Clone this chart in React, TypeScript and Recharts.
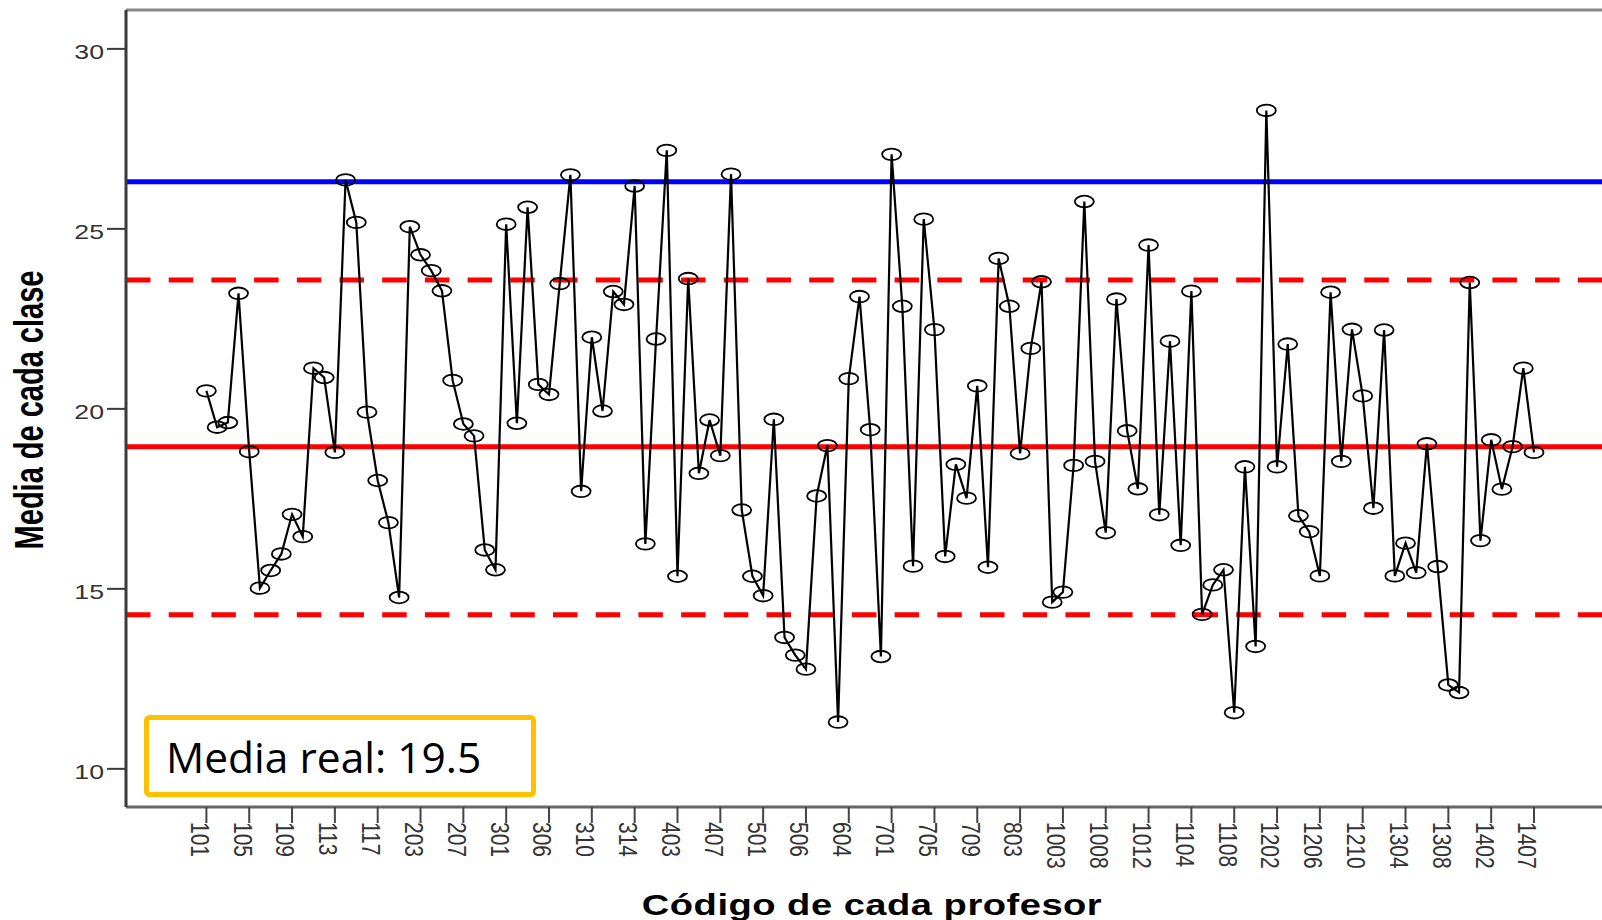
import { LineChart, Line, XAxis, YAxis, ReferenceLine } from 'recharts';

// teacher codes, one per class (every 4th is labelled on the axis)
const codes = [
  '101', '102', '103', '104', '105', '106', '107', '108', '109', '110',
  '111', '112', '113', '114', '115', '116', '117', '118', '201', '202',
  '203', '204', '205', '206', '207', '208', '209', '210', '301', '302',
  '303', '304', '306', '307', '308', '309', '310', '311', '312', '313',
  '314', '315', '401', '402', '403', '404', '405', '406', '407', '408',
  '409', '410', '501', '502', '503', '504', '506', '507', '602', '603',
  '604', '605', '606', '607', '701', '702', '703', '704', '705', '706',
  '707', '708', '709', '710', '801', '802', '803', '804', '1001', '1002',
  '1003', '1004', '1005', '1006', '1008', '1009', '1010', '1011', '1012', '1101',
  '1102', '1103', '1104', '1105', '1106', '1107', '1108', '1109', '1110', '1201',
  '1202', '1203', '1204', '1205', '1206', '1207', '1208', '1209', '1210', '1301',
  '1302', '1303', '1304', '1305', '1306', '1307', '1308', '1309', '1310', '1401',
  '1402', '1403', '1404', '1405', '1407',
];

const classMeans = [
  20.5, 19.49, 19.62, 23.21, 18.81, 15.02, 15.51, 15.97, 17.07, 16.45,
  21.13, 20.87, 18.79, 26.36, 25.18, 19.91, 18.01, 16.84, 14.76, 25.06,
  24.28, 23.84, 23.28, 20.79, 19.58, 19.25, 16.08, 15.53, 25.13, 19.6,
  25.6, 20.68, 20.4, 23.48, 26.5, 17.71, 21.99, 19.94, 23.26, 22.9,
  26.19, 16.25, 21.94, 27.18, 15.35, 23.62, 18.21, 19.69, 18.7, 26.52,
  17.19, 15.35, 14.81, 19.71, 13.65, 13.16, 12.77, 17.58, 18.98, 11.3,
  20.84, 23.12, 19.42, 13.12, 27.07, 22.85, 15.63, 25.27, 22.2, 15.9,
  18.46, 17.52, 20.64, 15.6, 24.18, 22.85, 18.76, 21.68, 23.53, 14.63,
  14.91, 18.43, 25.76, 18.54, 16.56, 23.05, 19.39, 17.78, 24.55, 17.06,
  21.88, 16.21, 23.27, 14.29, 15.11, 15.53, 11.56, 18.39, 13.4, 28.29,
  18.39, 21.8, 17.03, 16.59, 15.36, 23.24, 18.54, 22.21, 20.36, 17.24,
  22.19, 15.36, 16.27, 15.45, 19.03, 15.62, 12.33, 12.12, 23.51, 16.34,
  19.14, 17.77, 18.95, 21.13, 18.79,
];

const yTicks = [10, 15, 20, 25, 30];
const yDomain: [number, number] = [8.94, 31.08];

// control lines
const grandMean = 18.95;
const upperLimit = 23.58;
const lowerLimit = 14.28;
const topLimit = 26.31;

const data = codes.map((code, i) => ({ code, value: classMeans[i] }));

// the source image was stretched sideways, text follows that
const STRETCH = 1.27;
const FONT = "'Liberation Sans', Arial, sans-serif";

const YTick = ({ x, y, payload }: any) => (
  <text
    transform={`translate(${x - 1},${y + 10.5}) scale(${STRETCH},1)`}
    textAnchor='end'
    fontSize={21}
    fill='#333'
    fontFamily={FONT}
  >
    {payload.value}
  </text>
);

const XTick = ({ x, y, payload }: any) => (
  <text
    transform={`translate(${x - 15.6},${y - 3}) scale(${STRETCH},1) rotate(90)`}
    textAnchor='start'
    fontSize={21}
    fill='#333'
    fontFamily={FONT}
  >
    {payload.value}
  </text>
);

const Marker = ({ cx, cy, index }: any) => (
  <ellipse
    key={index}
    cx={cx}
    cy={cy}
    rx={9.5}
    ry={5.8}
    fill='none'
    stroke='#000'
    strokeWidth={1.8}
  />
);

export default function App() {
  return (
    <div
      style={{
        position: 'absolute',
        left: 0,
        top: 0,
        width: 1602,
        height: 920,
        overflow: 'hidden',
        background: '#fff',
      }}
    >
      <LineChart
        width={1640}
        height={920}
        data={data}
        margin={{ top: 10, right: 0, bottom: 0, left: 0 }}
      >
        <XAxis
          dataKey='code'
          interval={3}
          height={113}
          padding={{ left: 80.4, right: 106 }}
          axisLine={{ stroke: '#666', strokeWidth: 3 }}
          tickLine={{ stroke: '#444', strokeWidth: 2 }}
          tickSize={16}
          tick={(props: any) => <XTick {...props} />}
        />
        <YAxis
          type='number'
          width={126}
          domain={yDomain}
          ticks={yTicks}
          allowDataOverflow
          axisLine={{ stroke: '#3a3a3a', strokeWidth: 3 }}
          tickLine={{ stroke: '#3a3a3a', strokeWidth: 2 }}
          tickSize={19}
          tick={(props: any) => <YTick {...props} />}
        />

        <ReferenceLine y={yDomain[1]} stroke='#888' strokeWidth={3} />
        <ReferenceLine y={topLimit} stroke='#0000ff' strokeWidth={5} />
        <ReferenceLine
          y={upperLimit}
          stroke='#ff0000'
          strokeWidth={5}
          strokeDasharray='24.5 18.2'
        />
        <ReferenceLine y={grandMean} stroke='#ff0000' strokeWidth={5} />
        <ReferenceLine
          y={lowerLimit}
          stroke='#ff0000'
          strokeWidth={5}
          strokeDasharray='24.5 18.2'
        />

        <Line
          type='linear'
          dataKey='value'
          stroke='#000'
          strokeWidth={2.2}
          dot={Marker}
          activeDot={false}
          isAnimationActive={false}
        />
      </LineChart>

      <svg
        width={1602}
        height={920}
        style={{ position: 'absolute', left: 0, top: 0, pointerEvents: 'none' }}
      >
        <text
          transform={`translate(29,410) scale(1.4,1) rotate(-90)`}
          textAnchor='middle'
          dominantBaseline='central'
          fontSize={29}
          fontWeight='bold'
          fill='#000'
          fontFamily={FONT}
        >
          Media de cada clase
        </text>
        <text
          transform={`translate(872,915) scale(${STRETCH},1)`}
          textAnchor='middle'
          fontSize={30}
          fontWeight='bold'
          letterSpacing={0.4}
          fill='#000'
          fontFamily={FONT}
        >
          Código de cada profesor
        </text>

        <rect
          x={146.5}
          y={717.5}
          width={387}
          height={77}
          rx={3}
          fill='#fff'
          stroke='#ffc000'
          strokeWidth={5}
        />
        <text
          x={166}
          y={773}
          fontSize={42.5}
          fill='#000'
          fontFamily="'Open Sans', sans-serif"
        >
          Media real: 19.5
        </text>
      </svg>
    </div>
  );
}
